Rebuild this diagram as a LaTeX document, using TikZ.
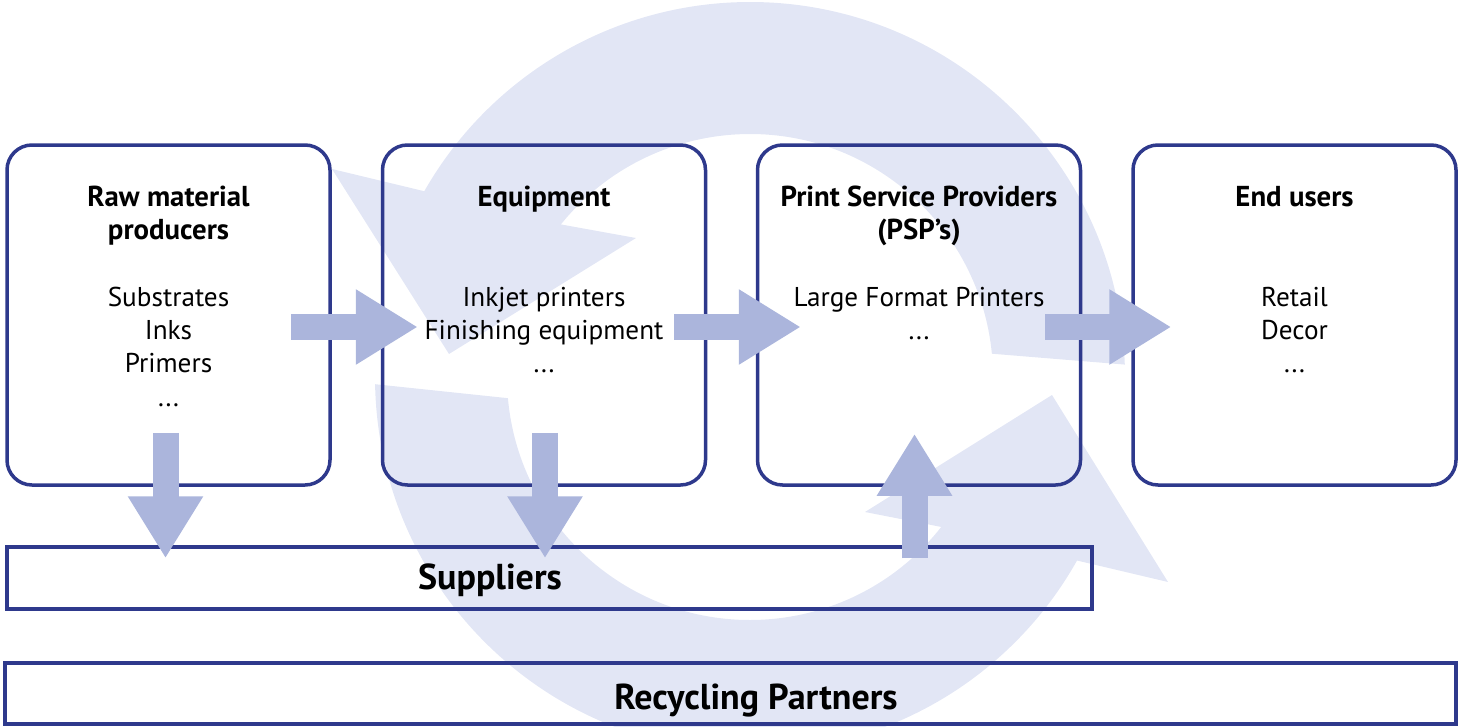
\documentclass[tikz,border=0pt]{standalone}
\usepackage{fontspec}
\setmainfont{PT Sans}
\usetikzlibrary{arrows.meta,calc}
\definecolor{navy}{RGB}{46,57,140}
\definecolor{flow}{RGB}{171,181,220}
\definecolor{loopfill}{RGB}{226,230,245}

\begin{document}
\begin{tikzpicture}[x=1pt,y=-1pt,
  stage/.style={draw=navy,line width=3.5pt,rounded corners=25pt,
    minimum width=323pt,minimum height=340pt,inner sep=0pt},
  strip/.style={draw=navy,line width=3.5pt,inner sep=0pt},
  fat/.style={draw=flow,line width=26pt,-{Triangle[length=62pt,width=71pt]}},
  title/.style={font=\bfseries\fontsize{28.8}{33.3}\selectfont,align=center,anchor=base,inner sep=0pt},
  body/.style={font=\fontsize{27.2}{33.3}\selectfont,align=center,anchor=base,inner sep=0pt},
  big/.style={font=\bfseries\fontsize{36}{40}\selectfont,anchor=base,inner sep=0pt},
]
\useasboundingbox (0,0) rectangle (1458,726);
\coordinate (c) at (750,377);

% circular loop in the background: upper half
\fill[loopfill] ($(c)+(-1.9:375)$) arc[start angle=-1.9,end angle=-150.3,radius=375]
  -- (332,169) -- (449,354) -- (636,238)
  -- ($(c)+(-141.1:243)$) arc[start angle=-141.1,end angle=-5.5,radius=243] -- cycle;
% lower half
\fill[loopfill] ($(c)+(178.9:375)$) arc[start angle=178.9,end angle=29.3,radius=375]
  -- (1168,582) -- (1052,395) -- (865,512)
  -- ($(c)+(38.1:243)$) arc[start angle=38.1,end angle=175,radius=243] -- cycle;

% value chain stages
\node[stage] (raw)   at (168.5,315) {};
\node[stage] (equip) at (544,315) {};
\node[stage] (psp)   at (919,315) {};
\node[stage] (users) at (1294.5,315) {};

\node[strip,minimum width=1085pt,minimum height=62pt] (sup) at (549.5,578) {};
\node[strip,minimum width=1451pt,minimum height=61pt] (rec) at (730.5,693.5) {};

% labels (a multi-line node sits on the baseline of its last line)
\node[title] (rawT) at (168.5,239.5) {Raw material\\producers};
\node[body]  (rawB) at (168.5,406) {Substrates\\Inks\\Primers\\...};
\node[title] (equipT) at (544,206) {Equipment};
\node[body]  (equipB) at (544,372.6) {Inkjet printers\\Finishing equipment\\...};
\node[title] (pspT) at (919,239.5) {Print Service Providers\\(PSP’s)};
\node[body]  (pspB) at (919,339.3) {Large Format Printers\\...};
\node[title] (usersT) at (1294.5,206) {End users};
\node[body]  (usersB) at (1294.5,372.6) {Retail\\Decor\\...};
\node[big] (supT) at (490,589) {Suppliers};
\node[big] (recT) at (756,709) {Recycling Partners};

% flow arrows
\draw[fat] ($(raw.east)+(-41,12)$) -- ($(equip.west)+(37,12)$);
\draw[fat] ($(equip.east)+(-33,12)$) -- ($(psp.west)+(45,12)$);
\draw[fat] ($(psp.east)+(-37,12)$) -- ($(users.west)+(40,12)$);
\draw[fat] ($(raw.south)+(-3,-54)$) -- ($(raw.south |- sup.north)+(-3,13)$);
\draw[fat] ($(equip.south)+(1,-54)$) -- ($(equip.south |- sup.north)+(1,13)$);
\draw[fat] ($(psp.south |- sup.north)+(-4.5,13)$) -- ($(psp.south)+(-4.5,-53)$);
\end{tikzpicture}
\end{document}
